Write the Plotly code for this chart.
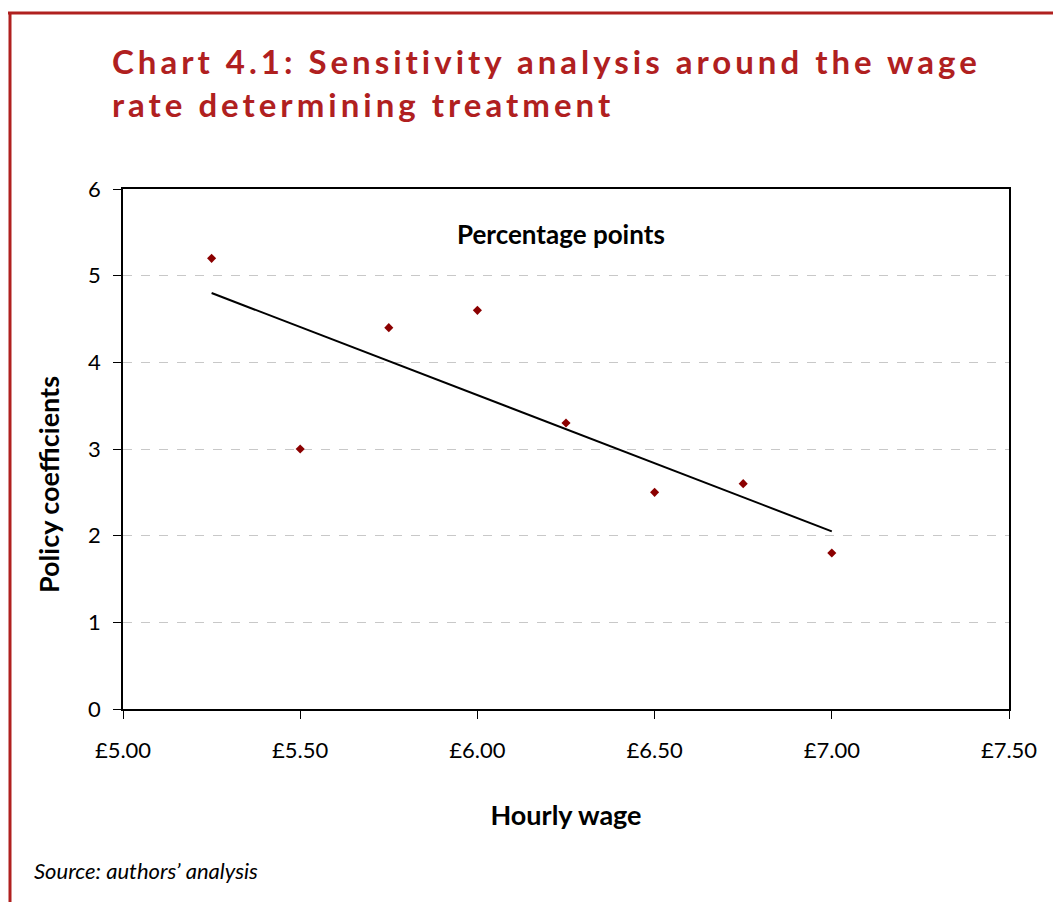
import plotly.graph_objects as go

# Data
wages = [5.25, 5.50, 5.75, 6.00, 6.25, 6.50, 6.75, 7.00]
coefficients = [5.2, 3.0, 4.4, 4.6, 3.3, 2.5, 2.6, 1.8]
trend_x = [5.25, 7.00]
trend_y = [4.80, 2.05]
x_tickvals = [5.0, 5.5, 6.0, 6.5, 7.0, 7.5]
x_ticktext = ["£5.00", "£5.50", "£6.00", "£6.50", "£7.00", "£7.50"]
y_tickvals = [0, 1, 2, 3, 4, 5, 6]

W, H = 1053, 902
L, R, T, B = 123, 1009, 189, 709
RED = "#B0201F"
FONT = "Lato"

def px(x):
    return (x - L) / (R - L)

def py(y):
    return (B - y) / (B - T)

fig = go.Figure()
fig.add_trace(go.Scatter(
    x=trend_x, y=trend_y, mode="lines",
    line=dict(color="black", width=2), showlegend=False, hoverinfo="skip"))
fig.add_trace(go.Scatter(
    x=wages, y=coefficients, mode="markers",
    marker=dict(symbol="diamond", size=7, color="#8B0000"),
    showlegend=False))

fig.update_layout(
    width=W, height=H,
    margin=dict(l=L, r=W - R, t=T, b=H - B),
    paper_bgcolor="white", plot_bgcolor="white",
    font=dict(family=FONT, size=22, color="black"),
    title=dict(
        text="<b>Chart 4.1: Sensitivity analysis around the wage<br>rate determining treatment</b>",
        x=112 / W, xanchor="left", xref="container",
        y=1 - 74 / H, yanchor="top", yref="container",
        font=dict(family=FONT, size=33, color=RED)),
    xaxis=dict(
        range=[5.0, 7.5], tickvals=x_tickvals, ticktext=x_ticktext,
        showgrid=False, zeroline=False,
        showline=True, linecolor="black", linewidth=1.5, mirror=True,
        ticks="outside", ticklen=8, tickcolor="black",
        ticklabelstandoff=13,
        tickfont=dict(size=22),
        title=dict(text="<b>Hourly wage</b>", standoff=44, font=dict(size=27))),
    yaxis=dict(
        range=[0, 6], tickvals=y_tickvals,
        showgrid=True, gridcolor="#C8C8C8", griddash="dash", gridwidth=1,
        zeroline=False,
        showline=True, linecolor="black", linewidth=1.5, mirror=True,
        ticks="outside", ticklen=8, tickcolor="black",
        ticklabelstandoff=8,
        tickfont=dict(size=22)),
    shapes=[
        dict(type="line", xref="paper", yref="paper",
             x0=px(8), x1=px(W + 5), y0=py(13), y1=py(13),
             line=dict(color=RED, width=3)),
        dict(type="line", xref="paper", yref="paper",
             x0=px(10), x1=px(10), y0=py(13), y1=py(H + 5),
             line=dict(color=RED, width=3)),
    ],
    annotations=[
        dict(text="<b>Percentage points</b>", xref="paper", yref="paper",
             x=px(561), y=py(234), xanchor="center", yanchor="middle",
             showarrow=False, font=dict(size=26)),
        dict(text="<b>Policy coefficients</b>", xref="paper", yref="paper",
             x=px(48), y=py(485), xanchor="center", yanchor="middle",
             textangle=-90, showarrow=False, font=dict(size=27)),
        dict(text="<i>Source: authors’ analysis</i>", xref="paper", yref="paper",
             x=px(32), y=py(870), xanchor="left", yanchor="middle",
             showarrow=False, font=dict(size=22)),
    ],
)

post = """
document.body.style.margin = '0';
document.querySelectorAll('.gtitle').forEach(function(t){ t.style.letterSpacing = '4px'; });
"""

fig.write_html("out.html", post_script=post, config={"displayModeBar": False})
